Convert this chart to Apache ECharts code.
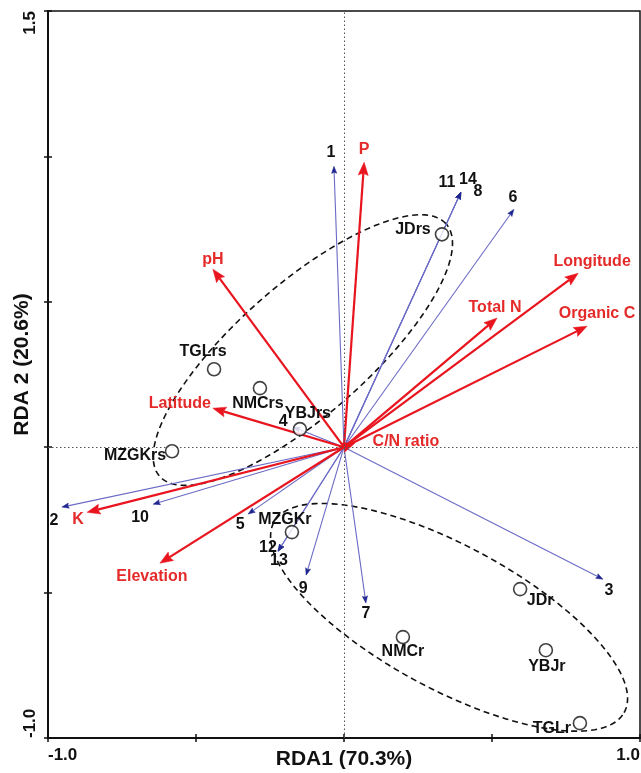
<!DOCTYPE html>
<html>
<head>
<meta charset="utf-8">
<title>RDA biplot</title>
<script src="https://cdn.jsdelivr.net/npm/echarts@6/dist/echarts.min.js"></script>
<style>
  html, body { margin: 0; padding: 0; background: #fff; }
  #chart { width: 641px; height: 773px; }
</style>
</head>
<body>
<div id="chart"></div>
<script>
// Species scores (blue vectors)
const speciesNames = ['1', '2', '3', '4', '5', '6', '7', '8', '9', '10', '11', '12', '13', '14'];
const speciesRDA1 = [-0.034, -0.953, 0.875, -0.172, -0.324, 0.574, 0.074, 0.395, -0.128, -0.645, 0.395, -0.223, -0.223, 0.395];
const speciesRDA2 = [0.966, -0.206, -0.454, 0.069, -0.230, 0.818, -0.536, 0.877, -0.440, -0.196, 0.877, -0.358, -0.358, 0.877];

// Environmental variables (red vectors)
const envNames = ['pH', 'Latitude', 'Longitude', 'Total N', 'Organic C', 'C/N ratio', 'P', 'K', 'Elevation'];
const envRDA1 = [-0.443, -0.443, 0.791, 0.517, 0.821, 0.037, 0.068, -0.868, -0.622];
const envRDA2 = [0.612, 0.134, 0.598, 0.444, 0.416, 0.014, 0.980, -0.224, -0.399];

// Sample scores (open circles)
const sampleNames = ['JDrs', 'TGLrs', 'NMCrs', 'YBJrs', 'MZGKrs', 'MZGKr', 'JDr', 'NMCr', 'YBJr', 'TGLr'];
const sampleRDA1 = [0.331, -0.439, -0.284, -0.149, -0.581, -0.176, 0.595, 0.199, 0.682, 0.797];
const sampleRDA2 = [0.732, 0.268, 0.203, 0.062, -0.014, -0.292, -0.488, -0.653, -0.698, -0.949];

// Group ellipses: centre, semi-axes and tilt (degrees)
const ellipseCentreX = [-0.139, 0.355];
const ellipseCentreY = [0.334, -0.585];
const ellipseSemiA = [0.650, 0.676];
const ellipseSemiB = [0.223, 0.245];
const ellipseTilt = [42, -29];

// Axis ranges and tick labels
const xRange = [-1.0, 1.0];
const yRange = [-1.0, 1.5];
const tickStep = 0.5;
const xTickLabels = ['-1.0', '1.0'];
const yTickLabels = ['-1.0', '1.5'];

// Label placement (pixel offsets from the anchor point)
const speciesLabelOffset = {
  '1': [-3, -14], '2': [-8, 13], '3': [6, 11], '4': [-10, -6], '5': [-8, 11],
  '6': [-1, -12], '7': [0, 11], '8': [17, -1], '9': [-3, 13], '10': [-13, 13],
  '11': [-14, -10], '12': [-10, -4], '13': [1, 9], '14': [7, -13]
};
const envLabelOffset = {
  'pH': [0, -10], 'Latitude': [-33, -5], 'Longitude': [14, -12], 'Total N': [-2, -10],
  'Organic C': [10, -13], 'C/N ratio': [51, -2], 'P': [0, -13], 'K': [-9, 7], 'Elevation': [-8, 13]
};
const sampleLabelOffset = {
  'JDrs': [-29, -5], 'TGLrs': [-11, -18], 'NMCrs': [-2, 15], 'YBJrs': [8, -16], 'MZGKrs': [-37, 4],
  'MZGKr': [-7, -13], 'JDr': [20, 11], 'NMCr': [0, 15], 'YBJr': [1, 16], 'TGLr': [-28, 5]
};

const FONT = '"Liberation Sans", Arial, sans-serif';
const RED = '#e8141e';
const RED_TEXT = '#e52a2a';
const BLUE_LINE = '#6b6bc6';
const BLUE_HEAD = '#1f268f';

const speciesData = speciesNames.map((n, i) => ({ name: n, value: [speciesRDA1[i], speciesRDA2[i]] }));
const envData = envNames.map((n, i) => ({ name: n, value: [envRDA1[i], envRDA2[i]] }));
const sampleData = sampleNames.map((n, i) => ({ name: n, value: [sampleRDA1[i], sampleRDA2[i]] }));
const ellipseData = ellipseCentreX.map((c, i) =>
  [c, ellipseCentreY[i], ellipseSemiA[i], ellipseSemiB[i], ellipseTilt[i]]);

// Arrow from the origin to a score, drawn in pixel space
function arrowRenderer(lineColor, headColor, lineWidth, headLen, headHalf, notch) {
  return function (params, api) {
    const o = api.coord([0, 0]);
    const t = api.coord([api.value(0), api.value(1)]);
    const dx = t[0] - o[0], dy = t[1] - o[1];
    const len = Math.sqrt(dx * dx + dy * dy) || 1;
    const ux = dx / len, uy = dy / len;
    const px = -uy, py = ux;
    const bx = t[0] - ux * headLen, by = t[1] - uy * headLen;
    const nx = t[0] - ux * (headLen - notch), ny = t[1] - uy * (headLen - notch);
    const shaftEnd = len > headLen ? [nx, ny] : o;
    return {
      type: 'group',
      children: [
        {
          type: 'line',
          shape: { x1: o[0], y1: o[1], x2: shaftEnd[0], y2: shaftEnd[1] },
          style: { stroke: lineColor, lineWidth: lineWidth }
        },
        {
          type: 'polygon',
          shape: { points: [[t[0], t[1]], [bx + px * headHalf, by + py * headHalf], [nx, ny], [bx - px * headHalf, by - py * headHalf]] },
          style: { fill: headColor, stroke: headColor, lineWidth: 0.5 }
        }
      ]
    };
  };
}

function ellipseRenderer(params, api) {
  const cx = api.value(0), cy = api.value(1), a = api.value(2), b = api.value(3);
  const th = api.value(4) * Math.PI / 180;
  const pts = [];
  for (let k = 0; k <= 180; k++) {
    const t = k / 180 * Math.PI * 2;
    const x = cx + a * Math.cos(t) * Math.cos(th) - b * Math.sin(t) * Math.sin(th);
    const y = cy + a * Math.cos(t) * Math.sin(th) + b * Math.sin(t) * Math.cos(th);
    pts.push(api.coord([x, y]));
  }
  return {
    type: 'polyline',
    shape: { points: pts },
    style: { stroke: '#111', lineWidth: 1.6, lineDash: [6, 4], fill: null }
  };
}

// Text label anchored at a score, shifted by a pixel offset
function labelRenderer(offsets, color) {
  return function (params, api) {
    const name = api.value(2);
    const p = api.coord([api.value(0), api.value(1)]);
    const off = offsets[name] || [0, 0];
    return {
      type: 'text',
      x: p[0] + off[0], y: p[1] + off[1],
      style: {
        text: name, fill: color, align: 'center', verticalAlign: 'middle',
        font: 'bold 16px ' + FONT
      }
    };
  };
}

const chart = echarts.init(document.getElementById('chart'), null, { renderer: 'canvas' });

const tickFmtX = v => (Math.abs(v - xRange[0]) < 1e-9 ? xTickLabels[0] : Math.abs(v - xRange[1]) < 1e-9 ? xTickLabels[1] : '');
const tickFmtY = v => (Math.abs(v - yRange[0]) < 1e-9 ? yTickLabels[0] : Math.abs(v - yRange[1]) < 1e-9 ? yTickLabels[1] : '');

const withName = data => data.map(d => ({ name: d.name, value: [d.value[0], d.value[1], d.name] }));

chart.setOption({
  backgroundColor: '#fff',
  animation: false,
  grid: {
    left: 48, right: 1, top: 11, bottom: 35,
    containLabel: false, outerBoundsMode: 'none',
    show: true, borderColor: '#111', borderWidth: 1.5, backgroundColor: 'transparent'
  },
  xAxis: [
    {
      type: 'value', min: xRange[0], max: xRange[1], interval: tickStep,
      name: 'RDA1 (70.3%)', nameLocation: 'middle', nameGap: 11, nameMoveOverlap: false,
      nameTextStyle: { fontFamily: FONT, fontWeight: 'bold', fontSize: 21, color: '#111' },
      axisLine: { onZero: false, lineStyle: { color: '#111', width: 2 } },
      axisTick: { show: true, inside: false, length: 4, lineStyle: { color: '#111', width: 1.5 } },
      axisLabel: {
        formatter: tickFmtX, fontFamily: FONT, fontWeight: 'bold', fontSize: 17, color: '#111',
        margin: 9, alignMinLabel: 'left', alignMaxLabel: 'right', showMinLabel: true, showMaxLabel: true
      },
      splitLine: { show: false }
    },
    {
      type: 'value', min: xRange[0], max: xRange[1], interval: tickStep, position: 'bottom',
      axisLine: { show: false, onZero: false },
      axisTick: { show: true, inside: true, length: 4, lineStyle: { color: '#111', width: 1.5 } },
      axisLabel: { show: false }, splitLine: { show: false }
    }
  ],
  yAxis: [
    {
      type: 'value', min: yRange[0], max: yRange[1], interval: tickStep,
      name: 'RDA 2 (20.6%)', nameLocation: 'middle', nameGap: 15, nameRotate: 90, nameMoveOverlap: false,
      nameTextStyle: { fontFamily: FONT, fontWeight: 'bold', fontSize: 21, color: '#111', padding: [0, 0, 0, 20] },
      axisLine: { onZero: false, lineStyle: { color: '#111', width: 2 } },
      axisTick: { show: true, inside: false, length: 4, lineStyle: { color: '#111', width: 1.5 } },
      axisLabel: {
        formatter: tickFmtY, rotate: 90, fontFamily: FONT, fontWeight: 'bold', fontSize: 17, color: '#111',
        margin: 9, alignMinLabel: 'left', alignMaxLabel: 'right', showMinLabel: true, showMaxLabel: true
      },
      splitLine: { show: false }
    },
    {
      type: 'value', min: yRange[0], max: yRange[1], interval: tickStep, position: 'left',
      axisLine: { show: false, onZero: false },
      axisTick: { show: true, inside: true, length: 4, lineStyle: { color: '#111', width: 1.5 } },
      axisLabel: { show: false }, splitLine: { show: false }
    }
  ],
  series: [
    {
      // zero reference lines
      type: 'scatter', data: [], silent: true,
      markLine: {
        silent: true, symbol: 'none', label: { show: false },
        lineStyle: { type: [1.5, 2.5], color: '#555', width: 1 },
        data: [{ xAxis: 0 }, { yAxis: 0 }]
      }
    },
    {
      type: 'custom', name: 'groups', silent: true,
      renderItem: ellipseRenderer, data: ellipseData, z: 2
    },
    {
      type: 'custom', name: 'species', silent: true,
      renderItem: arrowRenderer(BLUE_LINE, BLUE_HEAD, 1.1, 7, 2.6, 1),
      data: speciesData, z: 3
    },
    {
      type: 'custom', name: 'environment', silent: true,
      renderItem: arrowRenderer(RED, RED, 2.2, 13, 5, 2),
      data: envData, z: 4
    },
    {
      type: 'scatter', name: 'samples', silent: true,
      symbol: 'circle', symbolSize: 13,
      itemStyle: { color: '#fff', borderColor: '#111', borderWidth: 1.6 },
      data: sampleData, z: 5
    },
    {
      type: 'custom', silent: true, z: 6,
      renderItem: labelRenderer(speciesLabelOffset, '#111'),
      data: withName(speciesData)
    },
    {
      type: 'custom', silent: true, z: 6,
      renderItem: labelRenderer(envLabelOffset, RED_TEXT),
      data: withName(envData)
    },
    {
      type: 'custom', silent: true, z: 6,
      renderItem: labelRenderer(sampleLabelOffset, '#111'),
      data: withName(sampleData)
    }
  ]
});
</script>
</body>
</html>
